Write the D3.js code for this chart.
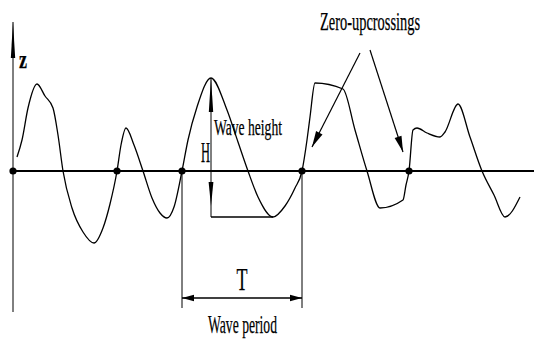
<!DOCTYPE html>
<html>
<head>
<meta charset="utf-8">
<script src="https://cdn.jsdelivr.net/npm/d3@7/dist/d3.min.js"></script>
<style>
  html, body { margin: 0; padding: 0; background: #fff; }
  svg { display: block; }
  text { font-family: "Liberation Serif", "DejaVu Serif", serif; fill: #000; stroke: #000; stroke-width: 0.25; }
</style>
</head>
<body>
<svg id="chart" width="534" height="341"></svg>
<script>
// Surface elevation record: time (s) and elevation z (m)
const time = [0.4, 0.9, 1.5, 2.4, 3.2, 4.0, 4.5, 5.0, 5.9, 7.0, 8.1, 9.0, 9.7, 10.4,
  10.8, 11.3, 12.1, 13.0, 13.9, 14.7, 15.4, 16.1, 16.9, 17.5, 18.4, 19.8, 21.4, 22.5,
  23.5, 24.5, 26.0, 27.2, 28.2, 28.9, 29.4, 29.7, 30.2, 33.0, 34.2, 35.4, 36.7, 39.0,
  39.3, 39.6, 40.0, 40.4, 41.4, 42.7, 43.2, 44.5, 45.7, 46.9, 48.1, 49.2, 50.7];
const elevation = [1.4, 3.1, 6.3, 8.7, 7.5, 6.3, 3.6, 0, -3.7, -6.1, -7.2, -5.7, -3.3, 0,
  2.6, 4.3, 2.6, 0, -2.7, -4.2, -4.7, -3.6, 0, 3.1, 6.4, 9.3, 6.1, 2.9,
  0, -2.6, -4.6, -3.5, -1.7, 0, 3.1, 5.4, 8.8, 8.2, 4.1, 0, -3.7, -2.9,
  -1.4, 0, 4.1, 4.3, 3.8, 3.4, 3.9, 6.7, 3.4, 0, -2.4, -4.6, -2.6];

// Zero-upcrossing instants
const upcrossings = [0, 10.4, 16.9, 28.9, 39.6];

// Wave marked for height / period
const crestTime = 19.8, crestZ = 9.3;
const troughTime = 26.0, troughZ = -4.6;
const periodStart = 16.9, periodEnd = 28.9;

// Labels
const axisLabel = "z";
const calloutLabel = "Zero-upcrossings";
const heightLabel = "Wave height";
const heightSymbol = "H";
const periodLabel = "Wave period";
const periodSymbol = "T";

const svg = d3.select("#chart");
const x = d3.scaleLinear().domain([0, 52.1]).range([13, 534]);
const y = d3.scaleLinear().domain([-14.1, 14.9]).range([312, 22]);

// Filled arrowhead whose tip is at (x2,y2), pointing from (x1,y1)
function arrowHead(g, x1, y1, x2, y2, len, half) {
  const dx = x2 - x1, dy = y2 - y1, L = Math.hypot(dx, dy);
  const ux = dx / L, uy = dy / L;
  const bx = x2 - ux * len, by = y2 - uy * len;
  const px = -uy * half, py = ux * half;
  g.append("path")
    .attr("d", `M${x2},${y2}L${bx + px},${by + py}L${bx - px},${by - py}Z`)
    .attr("fill", "#000");
}

const g = svg.append("g");

// Vertical z axis with arrow
g.append("line").attr("x1", x(0)).attr("x2", x(0)).attr("y1", y(14.9)).attr("y2", y(-14.1))
  .attr("stroke", "#000").attr("stroke-width", 1);
arrowHead(g, x(0), y(10), x(0), y(14.9), 36, 2.2);
g.append("text").attr("x", x(0) + 6).attr("y", y(10.3))
  .attr("font-size", 25).attr("font-weight", "bold")
  .attr("textLength", 8).attr("lengthAdjust", "spacingAndGlyphs").text(axisLabel);

// Mean water level
g.append("line").attr("x1", x(0)).attr("x2", x(52.1)).attr("y1", y(0)).attr("y2", y(0))
  .attr("stroke", "#000").attr("stroke-width", 2);

// Elevation trace
const pts = time.map((t, i) => [t, elevation[i]]);
g.append("path")
  .datum(pts)
  .attr("fill", "none").attr("stroke", "#000").attr("stroke-width", 1.3)
  .attr("d", d3.line().x(d => x(d[0])).y(d => y(d[1])).curve(d3.curveMonotoneX));

// Zero-upcrossing markers
g.selectAll("circle.up").data(upcrossings).join("circle")
  .attr("class", "up").attr("cx", d => x(d)).attr("cy", y(0)).attr("r", 3.6).attr("fill", "#000");

// Wave height dimension
g.append("line").attr("x1", x(crestTime)).attr("x2", x(crestTime))
  .attr("y1", y(crestZ)).attr("y2", y(troughZ)).attr("stroke", "#000").attr("stroke-width", 1);
g.append("line").attr("x1", x(crestTime)).attr("x2", x(troughTime))
  .attr("y1", y(troughZ)).attr("y2", y(troughZ)).attr("stroke", "#000").attr("stroke-width", 1.5);
arrowHead(g, x(crestTime), y(0), x(crestTime), y(crestZ), 34, 2.2);
arrowHead(g, x(crestTime), y(0), x(crestTime), y(troughZ) - 11, 24, 2.4);
g.append("text").attr("x", x(crestTime) + 3).attr("y", y(3.6))
  .attr("font-size", 23).attr("textLength", 68).attr("lengthAdjust", "spacingAndGlyphs").text(heightLabel);
g.append("text").attr("x", x(crestTime) - 10).attr("y", y(0.9))
  .attr("font-size", 29).attr("textLength", 9).attr("lengthAdjust", "spacingAndGlyphs").text(heightSymbol);

// Wave period dimension
g.append("line").attr("x1", x(periodStart)).attr("x2", x(periodStart))
  .attr("y1", y(0)).attr("y2", y(-13.7)).attr("stroke", "#000").attr("stroke-width", 1);
g.append("line").attr("x1", x(periodEnd)).attr("x2", x(periodEnd))
  .attr("y1", y(0)).attr("y2", y(-13.7)).attr("stroke", "#000").attr("stroke-width", 1);
g.append("line").attr("x1", x(periodStart)).attr("x2", x(periodEnd))
  .attr("y1", y(-12.7)).attr("y2", y(-12.7)).attr("stroke", "#000").attr("stroke-width", 1.5);
arrowHead(g, x(periodEnd), y(-12.7), x(periodStart), y(-12.7), 12, 3.2);
arrowHead(g, x(periodStart), y(-12.7), x(periodEnd), y(-12.7), 12, 3.2);
g.append("text").attr("x", x((periodStart + periodEnd) / 2)).attr("y", y(-11.9))
  .attr("text-anchor", "middle").attr("font-size", 31)
  .attr("textLength", 11).attr("lengthAdjust", "spacingAndGlyphs").text(periodSymbol);
g.append("text").attr("x", x(19.5)).attr("y", y(-16.2))
  .attr("font-size", 26).attr("textLength", 69).attr("lengthAdjust", "spacingAndGlyphs").text(periodLabel);

// Callout pointing at two zero-upcrossings
g.append("text").attr("x", x(30.7)).attr("y", y(14.1))
  .attr("font-size", 25).attr("textLength", 100).attr("lengthAdjust", "spacingAndGlyphs").text(calloutLabel);
const callouts = [[34.7, 11.8, 29.9, 2.4], [35.7, 12.1, 39.0, 1.9]];
callouts.forEach(([t1, z1, t2, z2]) => {
  g.append("line").attr("x1", x(t1)).attr("y1", y(z1)).attr("x2", x(t2)).attr("y2", y(z2))
    .attr("stroke", "#000").attr("stroke-width", 1.2);
  arrowHead(g, x(t1), y(z1), x(t2), y(z2), 16, 3.6);
});
</script>
</body>
</html>
